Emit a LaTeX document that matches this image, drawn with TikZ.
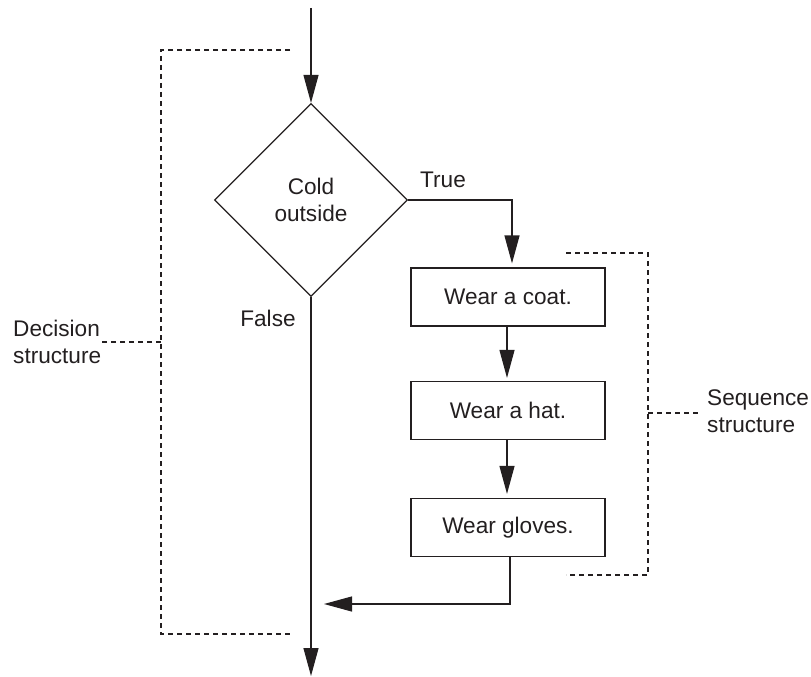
\documentclass[tikz,border=0pt]{standalone}
\usepackage{fontspec}
\setmainfont{Liberation Sans}
\usetikzlibrary{shapes.geometric,arrows.meta}
\definecolor{ink}{HTML}{231F20}
\begin{document}
\begin{tikzpicture}[x=1pt,y=-1pt,
  every node/.style={font=\fontsize{22.6}{27}\selectfont, text=ink},
  line/.style={draw=ink, line width=1.2pt},
  arr/.style={line, -{Triangle[length=28pt,width=15pt]}},
  dsh/.style={draw=ink, line width=1.1pt, dash pattern=on 5pt off 4pt},
  procbox/.style={draw=ink, line width=1.2pt, rectangle, minimum width=194pt, minimum height=58pt, inner sep=0pt},
  lbl/.style={inner sep=0pt, align=left}]
\useasboundingbox (0,0) rectangle (811,677);

% nodes
\node[draw=ink, line width=1.2pt, diamond, minimum width=193pt, minimum height=193pt, inner sep=0pt, align=center] (dec) at (311,200) {Cold\\outside};
\node[procbox] (b1) at (508,297) {Wear a coat.};
\node[procbox] (b2) at (508,410.5) {Wear a hat.};
\node[procbox] (b3) at (508,527.5) {Wear gloves.};

\node[inner sep=0pt, anchor=base] (true) at (443,187) {True};
\node[inner sep=0pt, anchor=base] (false) at (268,326) {False};
\node[lbl, anchor=west] (declbl) at (13,342) {Decision\\structure};
\node[lbl, anchor=west] (seqlbl) at (707,411) {Sequence\\structure};

% coordinates
\coordinate (start) at (311,8);
\coordinate (end) at (311,676);
\coordinate (join) at (324,604);

% connectors
\draw[arr] (start) -- (dec.north);
\draw[arr, shorten >=4pt] (dec.east) -| ([xshift=4pt]b1.north);
\draw[arr, shorten >=3pt] ([xshift=-1pt]b1.south) -- ([xshift=-1pt]b2.north);
\draw[arr, shorten >=4pt] ([xshift=-1pt]b2.south) -- ([xshift=-1pt]b3.north);
\draw[arr] ([xshift=2pt]b3.south) |- (join);
\draw[arr] (dec.south) -- (end);

% brackets
\coordinate (d1) at (290,50);
\coordinate (d2) at (161,50);
\coordinate (d3) at (161,634);
\coordinate (d4) at (290,634);
\coordinate (dt) at (161,342);
\coordinate (de) at (102,342);
\draw[dsh] (d1) -- (d2) -- (d3) -- (d4);
\draw[dsh] (dt) -- (de);

\coordinate (s1) at (566,253);
\coordinate (s2) at (648,253);
\coordinate (s3) at (648,575);
\coordinate (s4) at (566,575);
\coordinate (st) at (648,413);
\coordinate (se) at (700,413);
\draw[dsh] (s1) -- (s2) -- (s3) -- (s4);
\draw[dsh] (st) -- (se);
\end{tikzpicture}
\end{document}
